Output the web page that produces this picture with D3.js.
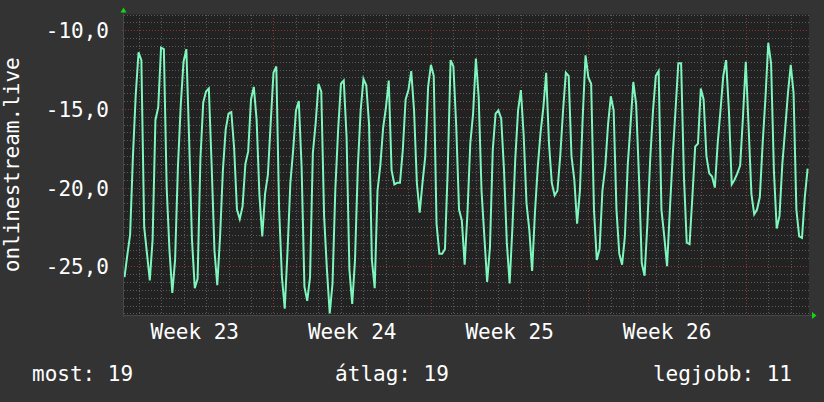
<!DOCTYPE html>
<html>
<head>
<meta charset="utf-8">
<script src="https://cdn.jsdelivr.net/npm/d3@7"></script>
<style>
    html, body { margin: 0; padding: 0; background: #333333; }
    svg { display: block; font-family: 'DejaVu Sans Mono', monospace; }
</style>
</head>
<body>
<div id="chart"></div>
<script>
// samples every 3 hours, one row per day
const dataStart = '2024-06-03T09:00';
const stepHours = 3;
const values = [
    -25.7, -24.3, -23.0, -18.0, -14.1,
    -11.4, -11.9, -22.5, -24.2, -25.9, -23.3, -15.7, -14.9,
    -11.1, -11.2, -20.0, -24.0, -26.7, -24.6, -18.7, -14.8,
    -12.0, -11.2, -17.0, -23.3, -26.4, -25.8, -18.2, -14.6,
    -13.9, -13.7, -18.6, -24.0, -26.2, -23.1, -18.9, -16.3,
    -15.3, -15.2, -17.5, -21.4, -22.0, -21.2, -18.5, -17.7,
    -14.4, -13.6, -15.7, -20.5, -23.1, -20.4, -19.2, -15.9,
    -12.7, -12.3, -21.4, -25.7, -27.7, -24.0, -19.7, -17.6,
    -15.1, -14.5, -18.7, -26.3, -27.2, -25.7, -17.8, -15.9,
    -13.4, -13.9, -21.8, -25.2, -28.0, -26.1, -20.1, -16.3,
    -13.4, -13.2, -16.8, -25.2, -27.4, -24.6, -18.7, -15.1,
    -13.1, -13.5, -16.0, -24.6, -26.4, -20.2, -18.6, -16.2,
    -14.9, -13.2, -18.9, -19.8, -19.7, -19.7, -17.6, -14.4,
    -13.8, -12.6, -15.1, -19.7, -21.6, -19.7, -18.0, -13.6,
    -12.2, -12.9, -22.3, -24.2, -24.2, -23.9, -18.7, -11.9,
    -12.3, -16.1, -21.4, -22.1, -24.9, -21.6, -17.2, -15.3,
    -11.8, -14.3, -20.2, -23.1, -26.0, -23.8, -17.6, -15.3,
    -15.1, -15.6, -18.9, -23.5, -26.1, -22.5, -18.2, -15.1,
    -13.8, -16.7, -21.0, -22.7, -25.3, -21.6, -18.7, -16.5,
    -14.9, -12.7, -17.2, -19.7, -20.5, -20.2, -18.0, -15.1,
    -12.7, -12.9, -18.0, -19.5, -22.3, -20.2, -15.5, -11.6,
    -13.0, -13.4, -21.4, -24.6, -23.9, -20.2, -18.7, -16.0,
    -14.2, -15.1, -21.4, -24.2, -24.9, -23.1, -18.6, -16.0,
    -13.3, -14.7, -19.3, -24.8, -25.6, -22.3, -18.2, -15.1,
    -12.9, -12.6, -21.4, -23.1, -25.0, -21.4, -18.0, -15.1,
    -12.1, -12.1, -19.3, -23.5, -23.6, -20.6, -17.4, -17.2,
    -13.7, -14.4, -18.0, -19.1, -19.3, -20.0, -17.2, -15.1,
    -12.9, -11.9, -15.1, -19.8, -19.5, -19.1, -18.6, -15.5,
    -12.0, -16.1, -20.4, -21.7, -21.4, -20.6, -17.2, -14.3,
    -10.8, -12.1, -18.9, -22.6, -21.8, -18.5, -16.3, -14.0,
    -12.2, -14.0, -21.4, -23.1, -23.2, -20.6, -18.8
];

const viewStart = '2024-06-03T08:28';
const viewEnd = '2024-07-03T19:28';
const yDomain = [-28.1, -9];
const yTicks = [-10, -15, -20, -25];
const yTickLabels = ['-10,0', '-15,0', '-20,0', '-25,0'];
const weekStarts = ['2024-06-03', '2024-06-10', '2024-06-17', '2024-06-24'];
const weekLabels = ['Week 23', 'Week 24', 'Week 25', 'Week 26'];
const yTitle = 'onlinestream.live';
const legendLabels = ['most', 'átlag', 'legjobb'];
const legendValues = ['19', '19', '11'];


class RrdChart {

    constructor(values) {

        var parse = d3.timeParse('%Y-%m-%dT%H:%M');
        var start = parse(dataStart);

        this._data = values.map(function(v, i) {
            return { date: d3.timeHour.offset(start, i * stepHours), value: v };
        });

        this._view = [parse(viewStart), parse(viewEnd)];
        this._width = 824;
        this._height = 402;
        this._margin = { left: 124, top: 14.5, right: 15, bottom: 87 };
        this._lineColor = '#7ef6bd';
        this._minorColor = '#5a5a5a';
        this._majorColor = '#8e3636';
        this._textColor = '#ffffff';
    }


    renderTo(selector) {

        var m = this._margin;
        var x0 = m.left, x1 = this._width - m.right;
        var y0 = m.top, y1 = this._height - m.bottom;

        var xScale = d3.scaleTime().domain(this._view).range([x0, x1]);
        var yScale = d3.scaleLinear().domain(yDomain).range([y1, y0]);

        var svg = d3.select(selector)
            .append('svg')
            .attr('width', this._width)
            .attr('height', this._height);

        svg.append('rect')
            .attr('width', this._width)
            .attr('height', this._height)
            .attr('fill', '#333333');

        svg.append('rect')
            .attr('x', x0)
            .attr('y', y0)
            .attr('width', x1 - x0)
            .attr('height', y1 - y0)
            .attr('fill', '#222222');

        svg.append('clipPath')
            .attr('id', 'clip')
            .append('rect')
            .attr('x', x0)
            .attr('y', y0)
            .attr('width', x1 - x0)
            .attr('height', y1 - y0);

        var grid = svg.append('g')
            .attr('class', 'grid')
            .attr('shape-rendering', 'crispEdges')
            .attr('stroke-width', 1)
            .attr('stroke-dasharray', '1,2');

        /*
         * Minor grid: every half unit and every day.
         */
        var minorY = d3.range(-28, yDomain[1] + 0.01, 0.5).filter(v => v % 5 !== 0);
        var majorY = yTicks;

        grid.selectAll('.hminor')
            .data(minorY)
            .join('line')
            .attr('x1', x0).attr('x2', x1)
            .attr('y1', d => Math.round(yScale(d)) + 0.5)
            .attr('y2', d => Math.round(yScale(d)) + 0.5)
            .attr('stroke', this._minorColor);

        var days = d3.timeDay.range(this._view[0], this._view[1]);
        var mondays = d3.timeMonday.range(this._view[0], this._view[1]);

        grid.selectAll('.vminor')
            .data(days.filter(d => d.getDay() !== 1))
            .join('line')
            .attr('x1', d => Math.round(xScale(d)) + 0.5)
            .attr('x2', d => Math.round(xScale(d)) + 0.5)
            .attr('y1', y0).attr('y2', y1 + 2)
            .attr('stroke', this._minorColor);

        grid.selectAll('.hmajor')
            .data(majorY)
            .join('line')
            .attr('x1', x0 - 2).attr('x2', x1)
            .attr('y1', d => Math.round(yScale(d)) + 0.5)
            .attr('y2', d => Math.round(yScale(d)) + 0.5)
            .attr('stroke', this._majorColor);

        grid.selectAll('.vmajor')
            .data(mondays)
            .join('line')
            .attr('x1', d => Math.round(xScale(d)) + 0.5)
            .attr('x2', d => Math.round(xScale(d)) + 0.5)
            .attr('y1', y0).attr('y2', y1 + 3)
            .attr('stroke', this._majorColor);

        /*
         * Axis lines.
         */
        svg.append('line')
            .attr('x1', x0 - 0.5).attr('x2', x1 + 3)
            .attr('y1', Math.round(y1) + 0.5).attr('y2', Math.round(y1) + 0.5)
            .attr('stroke', '#474747');

        svg.append('line')
            .attr('x1', x0 - 0.5).attr('x2', x0 - 0.5)
            .attr('y1', y1 + 2).attr('y2', y0 - 4)
            .attr('stroke', '#474747');

        /*
         * Data line.
         */
        var line = d3.line()
            .x(d => xScale(d.date))
            .y(d => yScale(d.value));

        svg.append('path')
            .datum(this._data)
            .attr('clip-path', 'url(#clip)')
            .attr('fill', 'none')
            .attr('stroke', this._lineColor)
            .attr('stroke-width', 2)
            .attr('stroke-linejoin', 'miter')
            .attr('d', line);

        /*
         * Arrow heads at the axis ends.
         */
        svg.append('path')
            .attr('fill', '#14d414')
            .attr('d', 'M' + (x0 - 3.5) + ',' + (y0 - 2) + 'L' + (x0 + 2.5) + ',' + (y0 - 2) + 'L' + (x0 - 0.5) + ',' + (y0 - 7) + 'Z');

        svg.append('path')
            .attr('fill', '#14d414')
            .attr('d', 'M' + (x1 + 3) + ',' + (y1 - 3) + 'L' + (x1 + 3) + ',' + (y1 + 4) + 'L' + (x1 + 7.5) + ',' + (y1 + 0.5) + 'Z');

        /*
         * Texts.
         */
        var text = svg.append('g')
            .attr('fill', this._textColor)
            .attr('font-size', '21px');

        text.selectAll('.ylabel')
            .data(yTicks)
            .join('text')
            .attr('x', 109)
            .attr('y', d => yScale(d) + 8)
            .attr('text-anchor', 'end')
            .text((d, i) => yTickLabels[i]);

        var parseDay = d3.timeParse('%Y-%m-%d');

        text.selectAll('.xlabel')
            .data(weekStarts)
            .join('text')
            .attr('x', d => xScale(d3.timeHour.offset(parseDay(d), 84)))
            .attr('y', 339)
            .attr('text-anchor', 'middle')
            .text((d, i) => weekLabels[i]);

        text.append('text')
            .attr('transform', 'translate(19,' + ((y0 + y1) / 2) + ') rotate(-90)')
            .attr('text-anchor', 'middle')
            .text(yTitle);

        var legendX = [32, 392, 792];
        var legendAnchor = ['start', 'middle', 'end'];

        text.selectAll('.legend')
            .data(legendLabels)
            .join('text')
            .attr('x', (d, i) => legendX[i])
            .attr('y', 381)
            .attr('text-anchor', (d, i) => legendAnchor[i])
            .text((d, i) => d + ': ' + legendValues[i]);

        return this;
    }
}

new RrdChart(values).renderTo('#chart');
</script>
</body>
</html>
